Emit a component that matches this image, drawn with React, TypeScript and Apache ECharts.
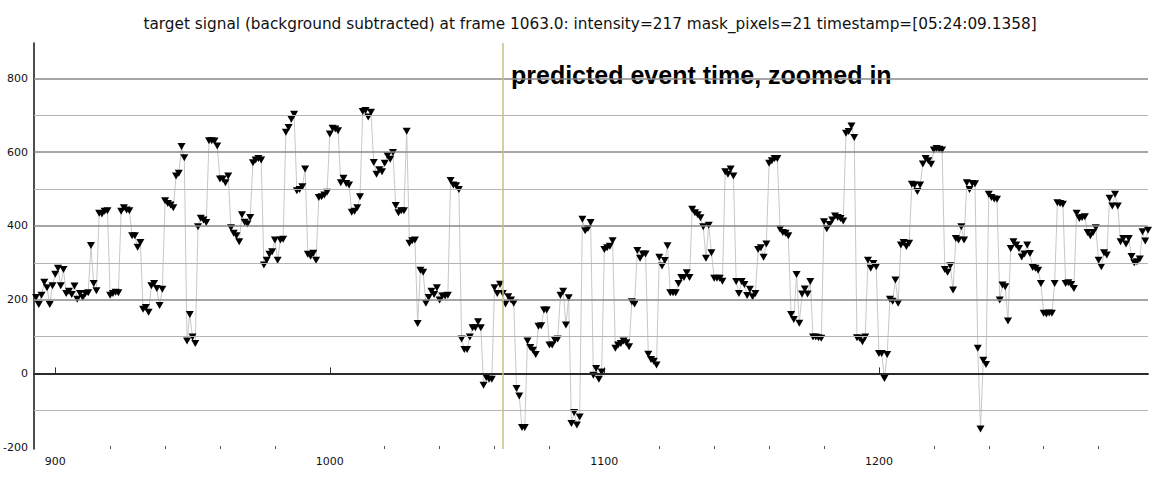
import { useEffect, useRef } from "react";
import * as echarts from "echarts";

// Frames 893..999
const FIRST_FRAME = 893;
const signalFrames0893: number[] = [
  206, 187, 212, 247, 232, 187, 238,
  269, 285, 238, 282, 217, 223, 214, 237, 201, 217,
  206, 217, 219, 347, 244, 224, 434, 432, 440, 441,
  212, 217, 220, 219, 440, 449, 443, 441, 373, 373,
  342, 355, 174, 179, 166, 238, 244, 230, 184, 228,
  468, 461, 457, 449, 535, 543, 615, 585, 88, 160,
  99, 81, 398, 421, 416, 409, 631, 631, 630, 617,
  527, 527, 517, 535, 395, 380, 373, 357, 430, 410,
  405, 423, 571, 579, 583, 579, 294, 307, 323, 330,
  362, 307, 362, 364, 654, 667, 689, 703, 495, 499,
  506, 554, 323, 318, 326, 307, 477, 479, 484, 491,
];
// Frames 1000..1099
const signalFrames1000: number[] = [
  649, 665, 663, 658, 517, 529, 515, 511, 437, 440,
  449, 479, 710, 713, 695, 708, 572, 540, 552, 547,
  570, 590, 581, 599, 455, 436, 441, 441, 657, 353,
  360, 362, 135, 280, 274, 190, 206, 223, 214, 232,
  199, 210, 210, 212, 523, 511, 509, 499, 93, 65,
  65, 99, 124, 124, 140, 124, -32, -11, -16, -16,
  232, 217, 242, 217, 188, 208, 199, 190, -41, -61,
  -147, -147, 88, 70, 63, 51, 128, 129, 172, 172,
  77, 77, 90, 93, 212, 223, 131, 205, -136, -106,
  -140, -118, 418, 387, 393, 409, -5, 13, -16, 4,
];
// Frames 1100..1199
const signalFrames1100: number[] = [
  336, 341, 345, 360, 68, 77, 81, 88, 83, 72,
  194, 188, 333, 312, 324, 324, 52, 38, 33, 23,
  315, 291, 306, 346, 219, 219, 219, 244, 260, 260,
  273, 260, 445, 436, 430, 422, 398, 312, 402, 327,
  258, 258, 258, 250, 547, 540, 554, 535, 249, 217,
  249, 241, 211, 228, 208, 217, 336, 341, 315, 351,
  570, 577, 583, 583, 391, 382, 380, 373, 160, 146,
  268, 136, 215, 229, 215, 249, 99, 99, 97, 95,
  411, 392, 404, 416, 427, 423, 420, 413, 651, 656,
  671, 640, 97, 95, 86, 99, 307, 285, 298, 289,
];
// Frames 1200..1298
const signalFrames1200: number[] = [
  54, 54, -14, 51, 201, 196, 253, 190, 348, 355,
  344, 353, 513, 511, 493, 511, 568, 583, 577, 567,
  606, 610, 608, 606, 282, 274, 292, 226, 366, 362,
  398, 362, 517, 499, 515, 514, 68, -151, 36, 24,
  486, 477, 473, 472, 199, 240, 235, 142, 339, 357,
  348, 339, 316, 324, 348, 325, 287, 285, 280, 244,
  163, 161, 164, 163, 244, 463, 461, 459, 244, 246,
  241, 230, 434, 420, 423, 425, 382, 373, 382, 395,
  307, 289, 327, 321, 475, 454, 486, 454, 357, 366,
  351, 366, 317, 300, 303, 310, 384, 359, 388,
];

const EVENT_FRAME = 1063;
const X_MIN = 892.25;
const X_MAX = 1298;
const Y_MIN = -205;
const Y_MAX = 896;

const yLabelValues = [-200, 0, 200, 400, 600, 800];
const yMajorGrid = [200, 400, 600, 800];
const yMinorGrid = [-100, 100, 300, 500, 700];
const yZeroLine = [0];
const xLabelValues = [900, 1000, 1100, 1200];
const xMinorTicks = [
  920, 940, 960, 980, 1020, 1040, 1060, 1080, 1120, 1140, 1160, 1180, 1220,
  1240, 1260, 1280,
];

const titleText =
  "target signal (background subtracted) at frame 1063.0: intensity=217 mask_pixels=21 timestamp=[05:24:09.1358]";
const annotationText = "predicted event time, zoomed in";

export default function App() {
  const ref = useRef<HTMLDivElement>(null);

  useEffect(() => {
    if (!ref.current) return;
    const chart = echarts.init(ref.current, null, { renderer: "svg" });

    const allValues = [
      ...signalFrames0893,
      ...signalFrames1000,
      ...signalFrames1100,
      ...signalFrames1200,
    ];
    const points = allValues.map((v, i) => [FIRST_FRAME + i, v]);

    const gridLines = [
      ...yMinorGrid.map((v) => ({
        yAxis: v,
        lineStyle: { color: "#b4b4b4", width: 1, type: "solid" },
      })),
      ...yMajorGrid.map((v) => ({
        yAxis: v,
        lineStyle: { color: "#888888", width: 1.5, type: "solid" },
      })),
      ...yZeroLine.map((v) => ({
        yAxis: v,
        lineStyle: { color: "#2a2a2a", width: 2, type: "solid" },
      })),
      {
        xAxis: EVENT_FRAME,
        lineStyle: { color: "#c6c27c", width: 1.5, type: "solid" },
      },
    ];

    const labelFont = {
      fontFamily: "DejaVu Sans",
      fontSize: 11,
      color: "#111",
    };
    const plain = (v: number) => String(v);

    chart.setOption({
      animation: false,
      backgroundColor: "#ffffff",
      grid: { left: 31, right: 4, top: 43, bottom: 33, containLabel: false },
      xAxis: [
        {
          type: "value",
          min: X_MIN,
          max: X_MAX,
          position: "bottom",
          axisLine: { show: true, lineStyle: { color: "#444", width: 2 } },
          axisTick: {
            show: true,
            inside: true,
            length: 6,
            customValues: xLabelValues,
            lineStyle: { color: "#333", width: 1 },
          },
          axisLabel: {
            show: true,
            customValues: xLabelValues,
            formatter: plain,
            margin: 7,
            ...labelFont,
          },
          splitLine: { show: false },
        },
        {
          type: "value",
          min: X_MIN,
          max: X_MAX,
          position: "bottom",
          axisLine: { show: false },
          axisTick: {
            show: true,
            inside: true,
            length: 3,
            customValues: xMinorTicks,
            lineStyle: { color: "#555", width: 1 },
          },
          axisLabel: { show: false },
          splitLine: { show: false },
        },
      ],
      yAxis: {
        type: "value",
        min: Y_MIN,
        max: Y_MAX,
        axisLine: { show: true, lineStyle: { color: "#111", width: 1.5 } },
        axisTick: { show: false },
        axisLabel: {
          show: true,
          customValues: yLabelValues,
          formatter: plain,
          margin: 6,
          ...labelFont,
        },
        splitLine: { show: false },
      },
      graphic: [
        {
          type: "text",
          x: 590,
          y: 24,
          style: {
            text: titleText,
            textAlign: "center",
            textVerticalAlign: "middle",
            font: '15.3px "DejaVu Sans"',
            fill: "#111",
          },
        },
        {
          type: "text",
          x: 511,
          y: 75,
          style: {
            text: annotationText,
            textAlign: "left",
            textVerticalAlign: "middle",
            font: 'bold 25px "Liberation Sans"',
            fill: "#000",
          },
        },
      ],
      series: [
        {
          name: "grid",
          type: "line",
          xAxisIndex: 0,
          data: [],
          silent: true,
          z: 1,
          markLine: {
            silent: true,
            symbol: ["none", "none"],
            label: { show: false },
            animation: false,
            data: gridLines,
          },
        },
        {
          name: "signal",
          type: "line",
          xAxisIndex: 0,
          data: points,
          silent: true,
          z: 3,
          symbol: "triangle",
          symbolSize: [8, 7],
          symbolRotate: 180,
          showSymbol: true,
          showAllSymbol: true,
          itemStyle: { color: "#000", borderWidth: 0 },
          lineStyle: { color: "#c8c8c8", width: 1 },
        },
      ],
    });

    return () => chart.dispose();
  }, []);

  return (
    <div
      ref={ref}
      style={{ position: "absolute", left: 0, top: 0, width: 1152, height: 482 }}
    />
  );
}
